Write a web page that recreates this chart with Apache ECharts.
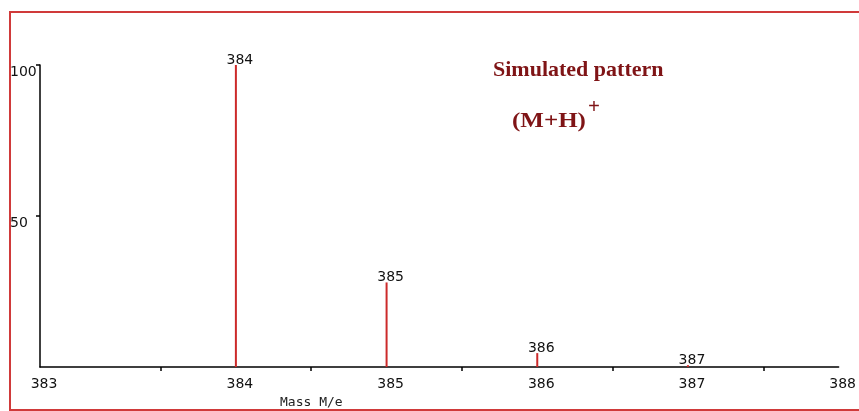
<!DOCTYPE html>
<html>
<head>
<meta charset="utf-8">
<script src="https://cdn.jsdelivr.net/npm/echarts@6/dist/echarts.min.js"></script>
<style>html,body{margin:0;padding:0;background:#fff}#c{width:859px;height:411px}</style>
</head>
<body>
<div id="c"></div>
<script>
// Data
const masses = [384, 385, 386, 387];
const intensities = [100, 28, 4.6, 0.6];
const peakLabels = ['384', '385', '386', '387'];
const xLabelValues = [382.7, 384, 385, 386, 387, 388];
const xTickLabels = ['383', '384', '385', '386', '387', '388'];
const xTickMarks = [383.5, 384.5, 385.5, 386.5, 387.5];
const yLabelValues = [50, 100];
const yTickLabels = ['50', '100'];
const titleText = 'Simulated pattern';
const ionText = '(M+H)';
const xAxisName = 'Mass M/e';

const chart = echarts.init(document.getElementById('c'));
const red = '#cc2a2a';
const maroon = '#7f1416';
const option = {
  animation: false,
  backgroundColor: '#fff',
  grid: { left: 40, right: 19, top: 65, bottom: 44 },
  xAxis: {
    type: 'value', min: 382.7, max: 388,
    axisLine: { lineStyle: { color: '#000', width: 1.5 } },
    axisTick: { show: true, customValues: xTickMarks, length: 4, lineStyle: { color: '#000', width: 1.5 } },
    axisLabel: {
      customValues: xLabelValues,
      formatter: v => xTickLabels[xLabelValues.indexOf(v)],
      fontFamily: 'DejaVu Sans', fontSize: 14, color: '#111',
      margin: 10, padding: [0, 0, 0, 8]
    },
    splitLine: { show: false }
  },
  yAxis: {
    type: 'value', min: 0, max: 100, interval: 50,
    axisLine: { show: true, lineStyle: { color: '#000', width: 1.5 } },
    axisTick: { show: true, customValues: yLabelValues, length: 4, lineStyle: { color: '#000', width: 1.5 } },
    axisLabel: {
      customValues: yLabelValues,
      formatter: v => yTickLabels[yLabelValues.indexOf(v)],
      fontFamily: 'DejaVu Sans', fontSize: 14, color: '#111',
      align: 'left', verticalAlign: 'top', margin: 30
    },
    splitLine: { show: false }
  },
  series: [{
    type: 'bar',
    barWidth: 2,
    itemStyle: { color: red },
    data: masses.map((m, i) => [m, intensities[i]]),
    label: {
      show: true, position: 'top', distance: 0, offset: [4, 2],
      formatter: p => peakLabels[p.dataIndex],
      fontFamily: 'DejaVu Sans', fontSize: 14, color: '#111'
    }
  }],
  graphic: [
    { type: 'rect', shape: { x: 10, y: 12, width: 900, height: 398 }, style: { fill: 'none', stroke: '#d03a3a', lineWidth: 2 }, z: 100 },
    { type: 'text', x: 493, y: 70, style: { text: titleText, font: 'bold 22px "Liberation Serif"', fill: maroon, verticalAlign: 'middle' } },
    { type: 'text', x: 512, y: 122, scaleX: 1.25, style: { text: ionText, font: 'bold 20px "Liberation Serif"', fill: maroon, verticalAlign: 'middle' } },
    { type: 'text', x: 588, y: 108, style: { text: '+', font: 'bold 21px "Liberation Serif"', fill: maroon, verticalAlign: 'middle' } },
    { type: 'text', x: 280, y: 403, style: { text: xAxisName, font: '13px "DejaVu Sans Mono"', fill: '#222', verticalAlign: 'middle' } }
  ]
};
chart.setOption(option);
</script>
</body>
</html>
